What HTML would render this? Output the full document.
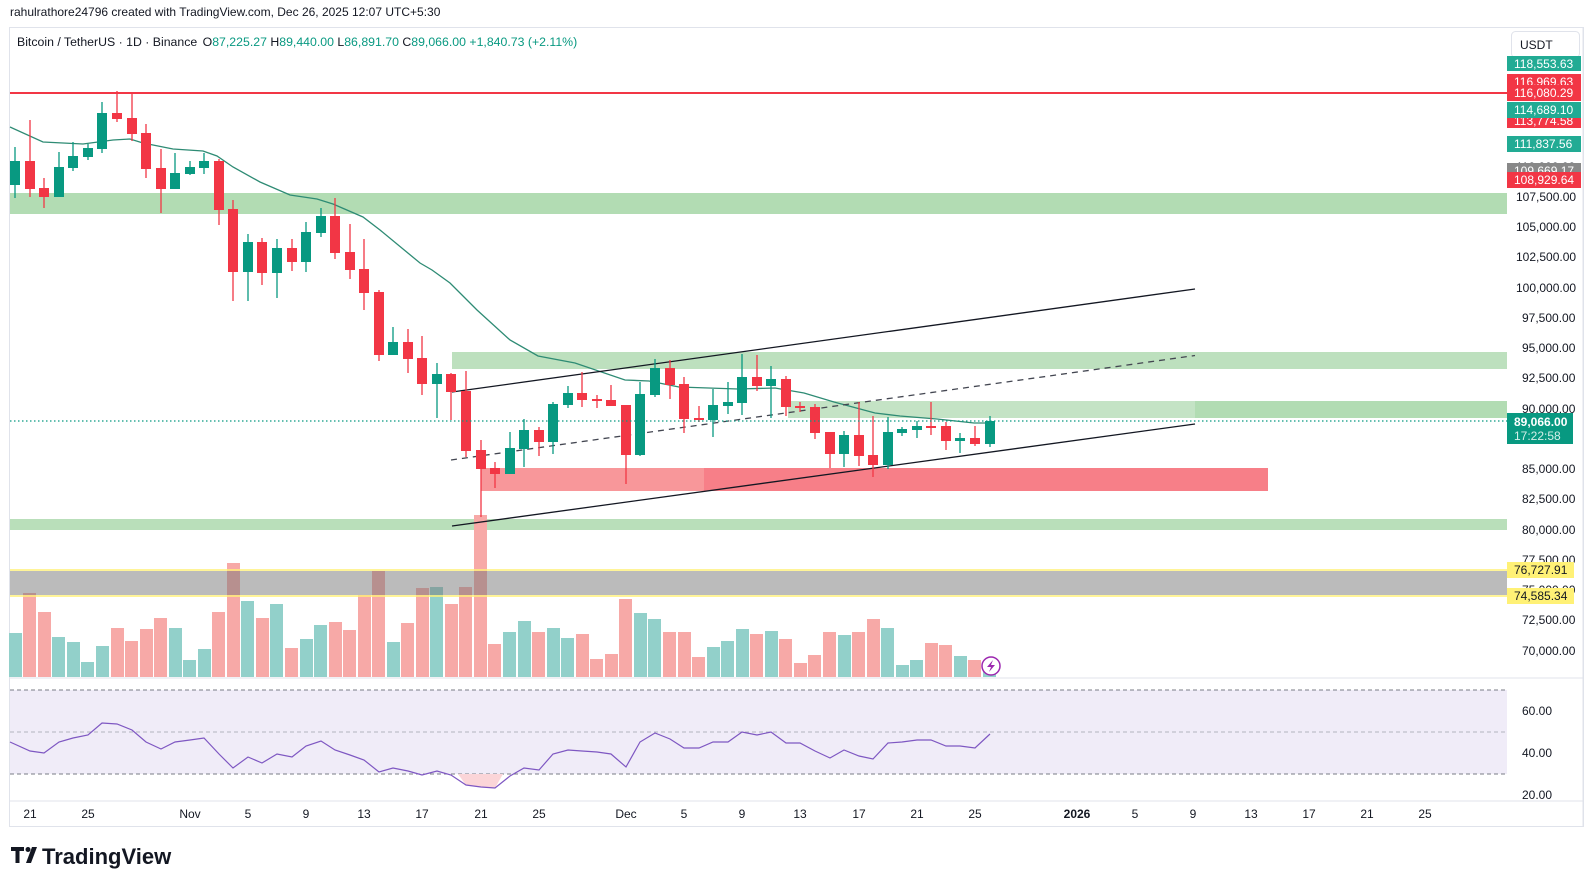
<!DOCTYPE html>
<html><head><meta charset="utf-8"><style>
html,body{margin:0;padding:0;background:#fff;}
svg{display:block;font-family:"Liberation Sans",sans-serif;}
</style></head><body>
<svg width="1595" height="887" viewBox="0 0 1595 887" xmlns="http://www.w3.org/2000/svg">
<rect width="1595" height="887" fill="#fff"/>
<text x="10" y="16" font-size="12" fill="#131722">rahulrathore24796 created with TradingView.com, Dec 26, 2025 12:07 UTC+5:30</text>
<rect x="9.5" y="27.5" width="1574" height="799" fill="none" stroke="#e0e3eb"/>
<line x1="1583" y1="28" x2="1583" y2="826" stroke="#e0e3eb"/>
<line x1="10" y1="678" x2="1583" y2="678" stroke="#e0e3eb"/>
<line x1="10" y1="801" x2="1583" y2="801" stroke="#e0e3eb"/>

<rect x="10" y="193" width="1497" height="21" fill="#b2dcb3"/>
<rect x="452" y="352" width="1055" height="17" fill="#bde0be"/>
<rect x="788" y="401" width="407" height="17" fill="#c4e3c5"/>
<rect x="1195" y="401" width="312" height="17" fill="#b2dcb3"/>
<rect x="481" y="468" width="223" height="23" fill="#f8979a"/>
<rect x="704" y="468" width="564" height="23" fill="#f77f88"/>
<rect x="10" y="519" width="1497" height="11" fill="#b9dfba"/>
<line x1="10" y1="93" x2="1507" y2="93" stroke="#f23645" stroke-width="2"/>

<g fill="#f7a9a7">
<rect x="23" y="593" width="13" height="84"/><rect x="38" y="612" width="13" height="65"/><rect x="111" y="628" width="13" height="49"/><rect x="125" y="641" width="13" height="36"/><rect x="140" y="629" width="13" height="48"/><rect x="154" y="618" width="13" height="59"/><rect x="212" y="612" width="13" height="65"/><rect x="227" y="563" width="13" height="114"/><rect x="256" y="618" width="13" height="59"/><rect x="285" y="648" width="13" height="29"/><rect x="329" y="622" width="13" height="55"/><rect x="343" y="630" width="13" height="47"/><rect x="358" y="595" width="13" height="82"/><rect x="372" y="571" width="13" height="106"/><rect x="401" y="623" width="13" height="54"/><rect x="416" y="588" width="13" height="89"/><rect x="445" y="604" width="13" height="73"/><rect x="459" y="587" width="13" height="90"/><rect x="474" y="515" width="13" height="162"/><rect x="488" y="644" width="13" height="33"/><rect x="532" y="632" width="13" height="45"/><rect x="576" y="634" width="13" height="43"/><rect x="590" y="659" width="13" height="18"/><rect x="605" y="654" width="13" height="23"/><rect x="619" y="599" width="13" height="78"/><rect x="663" y="632" width="13" height="45"/><rect x="678" y="632" width="13" height="45"/><rect x="692" y="657" width="13" height="20"/><rect x="750" y="634" width="13" height="43"/><rect x="779" y="639" width="13" height="38"/><rect x="794" y="663" width="13" height="14"/><rect x="808" y="655" width="13" height="22"/><rect x="823" y="632" width="13" height="45"/><rect x="852" y="632" width="13" height="45"/><rect x="867" y="619" width="13" height="58"/><rect x="925" y="643" width="13" height="34"/><rect x="939" y="645" width="13" height="32"/><rect x="968" y="660" width="13" height="17"/>
</g>
<g fill="#92d0ca">
<rect x="9" y="633" width="13" height="44"/><rect x="52" y="637" width="13" height="40"/><rect x="67" y="642" width="13" height="35"/><rect x="81" y="662" width="13" height="15"/><rect x="96" y="646" width="13" height="31"/><rect x="169" y="628" width="13" height="49"/><rect x="183" y="660" width="13" height="17"/><rect x="198" y="649" width="13" height="28"/><rect x="241" y="601" width="13" height="76"/><rect x="270" y="604" width="13" height="73"/><rect x="300" y="639" width="13" height="38"/><rect x="314" y="625" width="13" height="52"/><rect x="387" y="642" width="13" height="35"/><rect x="430" y="587" width="13" height="90"/><rect x="503" y="632" width="13" height="45"/><rect x="518" y="621" width="13" height="56"/><rect x="547" y="628" width="13" height="49"/><rect x="561" y="638" width="13" height="39"/><rect x="634" y="613" width="13" height="64"/><rect x="648" y="619" width="13" height="58"/><rect x="707" y="647" width="13" height="30"/><rect x="721" y="641" width="13" height="36"/><rect x="736" y="629" width="13" height="48"/><rect x="765" y="631" width="13" height="46"/><rect x="838" y="635" width="13" height="42"/><rect x="881" y="628" width="13" height="49"/><rect x="896" y="665" width="13" height="12"/><rect x="910" y="660" width="13" height="17"/><rect x="954" y="656" width="13" height="21"/><rect x="983" y="668" width="13" height="9"/>
</g>
<rect x="10" y="571" width="1497" height="24" fill="rgba(120,120,120,0.5)"/>
<line x1="10" y1="570" x2="1507" y2="570" stroke="#fff176" stroke-width="1.5"/>
<line x1="10" y1="596" x2="1507" y2="596" stroke="#fff176" stroke-width="1.5"/>

<polyline fill="none" stroke="#2e8b74" stroke-width="1.3" points="10,127 43,142 83,144 113,140 130,139 143,143 173,149 203,151 217,156 233,167 260,182 290,195 317,199 333,204 363,217 380,230 420,263 432,270 450,283 460,293 477,310 510,340 538,356 575,363 625,380 649,381 679,387 738,389 775,388 804,393 834,402 875,413 900,416 937,419 974,423 991,423"/>

<line x1="452" y1="392" x2="1195" y2="289" stroke="#131722" stroke-width="1.3"/>
<line x1="451" y1="460" x2="1195" y2="355.5" stroke="#434651" stroke-width="1.3" stroke-dasharray="6,5"/>
<line x1="452" y1="526" x2="1195" y2="424" stroke="#131722" stroke-width="1.3"/>

<g stroke="#089981" stroke-width="1.3">
<path d="M15 147V198M59 152V197M73 142V171M88 144V160M102 102V153M175 153V189M190 161V175M204 153V174M248 234V301M277 239V298M306 222V272M321 208V237M393 327V355M437 363V418M510 432V474M524 419V467M553 402V454M568 386V408M640 382V456M655 359V397M713 389V437M728 382V414M742 354V415M771 366V418M844 431V467M888 417V469M902 427V436M917 421V438M960 433V453M990 416V447"/>
</g>
<g fill="#089981">
<rect x="10" y="161" width="10" height="24"/><rect x="54" y="167" width="10" height="30"/><rect x="68" y="156" width="10" height="12"/><rect x="83" y="148" width="10" height="9"/><rect x="97" y="113" width="10" height="36"/><rect x="170" y="173" width="10" height="16"/><rect x="185" y="167" width="10" height="7"/><rect x="199" y="161" width="10" height="7"/><rect x="243" y="242" width="10" height="30"/><rect x="272" y="248" width="10" height="25"/><rect x="301" y="232" width="10" height="30"/><rect x="316" y="216" width="10" height="17"/><rect x="388" y="342" width="10" height="13"/><rect x="432" y="374" width="10" height="10"/><rect x="505" y="448" width="10" height="26"/><rect x="519" y="430" width="10" height="19"/><rect x="548" y="404" width="10" height="38"/><rect x="563" y="393" width="10" height="12"/><rect x="635" y="394" width="10" height="61"/><rect x="650" y="368" width="10" height="27"/><rect x="708" y="405" width="10" height="15"/><rect x="723" y="402" width="10" height="4"/><rect x="737" y="377" width="10" height="26"/><rect x="766" y="379" width="10" height="7"/><rect x="839" y="435" width="10" height="19"/><rect x="883" y="432" width="10" height="33"/><rect x="897" y="429" width="10" height="4"/><rect x="912" y="426" width="10" height="4"/><rect x="955" y="438" width="10" height="3"/><rect x="985" y="421" width="10" height="23"/>
</g>
<g stroke="#f23645" stroke-width="1.3">
<path d="M30 120V197M44 178V208M117 91V122M132 94V141M146 124V178M161 149V213M219 159V225M233 200V301M262 238V285M292 239V271M335 198V259M350 224V279M364 239V310M379 290V361M408 329V373M422 336V395M451 373V420M466 371V457M481 440V517M495 462V488M539 427V456M582 372V407M597 395V408M611 385V406M626 405V484M670 360V399M684 377V433M699 406V422M757 355V391M786 376V416M800 402V412M815 404V439M830 432V468M859 402V466M873 416V477M931 402V435M946 422V450M975 426V446"/>
</g>
<g fill="#f23645">
<rect x="25" y="161" width="10" height="28"/><rect x="39" y="188" width="10" height="9"/><rect x="112" y="113" width="10" height="6"/><rect x="127" y="118" width="10" height="16"/><rect x="141" y="133" width="10" height="36"/><rect x="156" y="168" width="10" height="21"/><rect x="214" y="161" width="10" height="49"/><rect x="228" y="209" width="10" height="63"/><rect x="257" y="242" width="10" height="31"/><rect x="287" y="248" width="10" height="14"/><rect x="330" y="216" width="10" height="37"/><rect x="345" y="252" width="10" height="18"/><rect x="359" y="269" width="10" height="24"/><rect x="374" y="292" width="10" height="63"/><rect x="403" y="342" width="10" height="17"/><rect x="417" y="358" width="10" height="26"/><rect x="446" y="374" width="10" height="18"/><rect x="461" y="391" width="10" height="60"/><rect x="476" y="450" width="10" height="19"/><rect x="490" y="468" width="10" height="6"/><rect x="534" y="430" width="10" height="12"/><rect x="577" y="393" width="10" height="7"/><rect x="592" y="399" width="10" height="2"/><rect x="606" y="400" width="10" height="6"/><rect x="621" y="405" width="10" height="50"/><rect x="665" y="368" width="10" height="17"/><rect x="679" y="384" width="10" height="35"/><rect x="694" y="418" width="10" height="2"/><rect x="752" y="377" width="10" height="9"/><rect x="781" y="379" width="10" height="28"/><rect x="795" y="406" width="10" height="2"/><rect x="810" y="407" width="10" height="26"/><rect x="825" y="432" width="10" height="22"/><rect x="854" y="435" width="10" height="21"/><rect x="868" y="455" width="10" height="10"/><rect x="926" y="426" width="10" height="2"/><rect x="941" y="426" width="10" height="15"/><rect x="970" y="438" width="10" height="6"/>
</g>
<line x1="10" y1="421" x2="1507" y2="421" stroke="#089981" stroke-width="1.2" stroke-dasharray="1.5,2.5"/>
<circle cx="991" cy="666" r="9" fill="#fff" stroke="#9c27b0" stroke-width="1.5"/>
<path d="M993 660 L987 667 L991 667 L989 672 L995 665 L991 665 Z" fill="#9c27b0"/>

<text x="17" y="46" font-size="12.3" fill="#131722">Bitcoin / TetherUS · 1D · Binance <tspan dx="2">O</tspan><tspan fill="#089981">87,225.27</tspan> <tspan>H</tspan><tspan fill="#089981">89,440.00</tspan> <tspan>L</tspan><tspan fill="#089981">86,891.70</tspan> <tspan>C</tspan><tspan fill="#089981">89,066.00</tspan> <tspan fill="#089981">+1,840.73 (+2.11%)</tspan></text>

<g font-size="12" fill="#131722">
<text x="1516" y="201">107,500.00</text>
<text x="1516" y="231">105,000.00</text>
<text x="1516" y="261">102,500.00</text>
<text x="1516" y="292">100,000.00</text>
<text x="1522" y="322">97,500.00</text>
<text x="1522" y="352">95,000.00</text>
<text x="1522" y="382">92,500.00</text>
<text x="1522" y="413">90,000.00</text>
<text x="1522" y="473">85,000.00</text>
<text x="1522" y="503">82,500.00</text>
<text x="1522" y="534">80,000.00</text>
<text x="1522" y="564">77,500.00</text>
<text x="1522" y="594">75,000.00</text>
<text x="1522" y="624">72,500.00</text>
<text x="1522" y="655">70,000.00</text>
<text x="1516" y="171">110,000.00</text>
</g>
<rect x="1511.5" y="31.5" width="68" height="26" rx="4" fill="#fff" stroke="#e0e3eb"/>
<text x="1520" y="49" font-size="12" fill="#131722">USDT</text>
<g font-size="12" fill="#fff">
<rect x="1507" y="56" width="74" height="15" fill="#22ab94"/><text x="1514" y="68">118,553.63</text>
<rect x="1507" y="74" width="74" height="15" fill="#f23645"/><text x="1514" y="86">116,969.63</text>
<rect x="1507" y="85" width="74" height="16" fill="#f23645"/><text x="1514" y="97">116,080.29</text>
<rect x="1507" y="113" width="74" height="15" fill="#f23645"/><text x="1514" y="125">113,774.58</text>
<rect x="1507" y="102" width="74" height="16" fill="#22ab94"/><text x="1514" y="114">114,689.10</text>
<rect x="1507" y="136" width="74" height="16" fill="#22ab94"/><text x="1514" y="148">111,837.56</text>
<rect x="1507" y="163" width="74" height="15" fill="#888"/><text x="1514" y="175">109,669.17</text>
<rect x="1507" y="172" width="74" height="16" fill="#f23645"/><text x="1514" y="184">108,929.64</text>
<rect x="1507" y="413" width="66" height="31" fill="#089981"/><text x="1514" y="426" font-weight="bold">89,066.00</text><text x="1514" y="440" fill="#d4efe9">17:22:58</text>
</g>
<g font-size="12" fill="#131722">
<rect x="1507" y="562" width="67" height="16" fill="#fff176"/><text x="1514" y="574">76,727.91</text>
<rect x="1507" y="588" width="67" height="16" fill="#fff176"/><text x="1514" y="600">74,585.34</text>
</g>

<rect x="10" y="690" width="1497" height="84" fill="#f0ecf8"/>
<line x1="10" y1="690" x2="1507" y2="690" stroke="#787b86" stroke-dasharray="4,3"/>
<line x1="10" y1="732" x2="1507" y2="732" stroke="#b2b5be" stroke-dasharray="4,3"/>
<line x1="10" y1="774" x2="1507" y2="774" stroke="#787b86" stroke-dasharray="4,3"/>
<polygon points="458,774 466,785 481,787 495,788 503,774" fill="#fbd5d8"/>
<polyline fill="none" stroke="#7e57c2" stroke-width="1.2" points="10,742 30,751 44,753 59,742 73,738 88,735 102,723 117,724 132,730 146,742 161,749 175,742 190,740 204,738 219,754 233,768 248,757 262,763 277,754 292,757 306,746 321,741 335,750 350,755 364,760 379,772 393,768 408,771 422,775 437,771 451,775 466,785 481,787 495,788 510,776 524,768 539,770 553,754 568,750 582,751 597,752 611,754 626,767 640,742 655,733 670,739 684,748 699,748 713,742 728,742 742,732 757,735 771,732 786,743 800,743 815,751 830,758 844,750 859,756 873,759 888,743 902,742 917,740 931,740 946,746 960,746 975,748 990,734"/>
<g font-size="12" fill="#131722">
<text x="1522" y="715">60.00</text>
<text x="1522" y="757">40.00</text>
<text x="1522" y="799">20.00</text>
</g>

<g font-size="12" fill="#131722" text-anchor="middle">
<text x="30" y="818">21</text><text x="88" y="818">25</text><text x="190" y="818">Nov</text><text x="248" y="818">5</text><text x="306" y="818">9</text><text x="364" y="818">13</text><text x="422" y="818">17</text><text x="481" y="818">21</text><text x="539" y="818">25</text><text x="626" y="818">Dec</text><text x="684" y="818">5</text><text x="742" y="818">9</text><text x="800" y="818">13</text><text x="859" y="818">17</text><text x="917" y="818">21</text><text x="975" y="818">25</text><text x="1077" y="818" font-weight="bold">2026</text><text x="1135" y="818">5</text><text x="1193" y="818">9</text><text x="1251" y="818">13</text><text x="1309" y="818">17</text><text x="1367" y="818">21</text><text x="1425" y="818">25</text>
</g>

<g fill="#131722">
<path d="M11 847h13v4h-4.5v12h-4v-12h-4.5z"/>
<circle cx="28" cy="849.5" r="2.5"/>
<path d="M32 847h5l-6 16h-5z"/>
</g>
<text x="42" y="864" font-size="22" font-weight="bold" fill="#131722">TradingView</text>
</svg>
</body></html>
